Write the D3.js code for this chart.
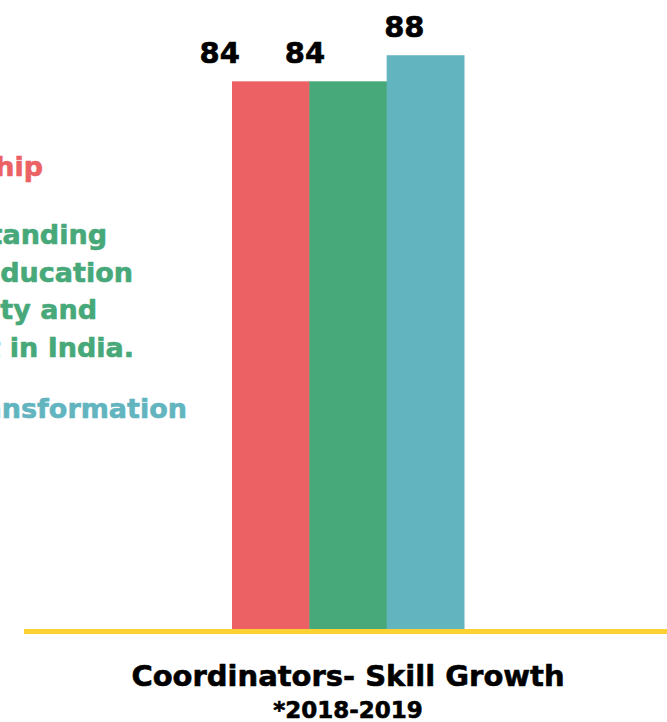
<!DOCTYPE html>
<html>
<head>
<meta charset="utf-8">
<script src="https://cdn.jsdelivr.net/npm/d3@7"></script>
<style>
  body { margin: 0; background: #fff; }
  svg { display: block; font-family: "DejaVu Sans", sans-serif; font-weight: bold; }
  text { stroke-width: 0.6; stroke-linejoin: round; }
</style>
</head>
<body>
<svg id="chart"></svg>
<script>
// data
var categories = ["Leadership", "Understanding of Education Inequity and its context in India.", "Personal Transformation"];
var scores = [84, 84, 88];
var legend_lines = [
    ["Leadership"],
    ["Understanding", "of Education", "Inequity and", "its context in India."],
    ["Personal Transformation"]
];
var title = "Coordinators- Skill Growth";
var subtitle = "*2018-2019";

// look
var colors = ["#EC6264", "#47A879", "#62B4BF"];
var width = 667, height = 722;
var baseline = 629;
var label_dx = [-51, -43, -21];          // value labels sit left of the bar centre
var legend_right = [[43], [107, 133, 97, 134], [187]];  // text runs off the left edge
var legend_top = [176, 244, 418];
var line_step = 37.7;

var svg = d3.select('#chart')
    .attr('width', width)
    .attr('height', height);

var x = d3.scaleBand()
    .domain(categories)
    .range([232, 464])
    .padding(0);

var y = d3.scaleLinear()
    .domain([0, 100])
    .range([baseline, -23]);

// bars
svg.selectAll('.bar')
    .data(scores)
    .enter()
    .append('rect')
    .attr('class', 'bar')
    .attr('x', (d, i) => x(categories[i]))
    .attr('y', d => y(d))
    .attr('width', x.bandwidth() + 0.5)
    .attr('height', d => baseline + 2 - y(d))
    .attr('fill', (d, i) => colors[i]);

// value labels
svg.selectAll('.val')
    .data(scores)
    .enter()
    .append('text')
    .attr('class', 'val')
    .attr('x', (d, i) => x(categories[i]) + x.bandwidth() / 2 + label_dx[i])
    .attr('y', d => y(d) - 18)
    .attr('text-anchor', 'middle')
    .attr('font-size', 29)
    .attr('fill', '#000')
    .attr('stroke', '#000')
    .text(d => d);

// yellow axis line
svg.append('line')
    .attr('x1', 24)
    .attr('x2', width)
    .attr('y1', baseline + 2.5)
    .attr('y2', baseline + 2.5)
    .attr('stroke', '#FCD232')
    .attr('stroke-width', 5);

// legend (cut off by the left edge, like the original)
legend_lines.forEach(function (lines, g) {
    lines.forEach(function (t, j) {
        svg.append('text')
            .attr('x', legend_right[g][j])
            .attr('y', legend_top[g] + j * line_step)
            .attr('text-anchor', 'end')
            .attr('font-size', 27)
            .attr('fill', colors[g])
            .attr('stroke', colors[g])
            .text(t);
    });
});

// title
svg.append('text')
    .attr('x', 348)
    .attr('y', 686)
    .attr('text-anchor', 'middle')
    .attr('font-size', 29)
    .attr('fill', '#000')
    .attr('stroke', '#000')
    .text(title);

svg.append('text')
    .attr('x', 348)
    .attr('y', 718)
    .attr('text-anchor', 'middle')
    .attr('font-size', 23)
    .attr('fill', '#000')
    .attr('stroke', '#000')
    .text(subtitle);
</script>
</body>
</html>
